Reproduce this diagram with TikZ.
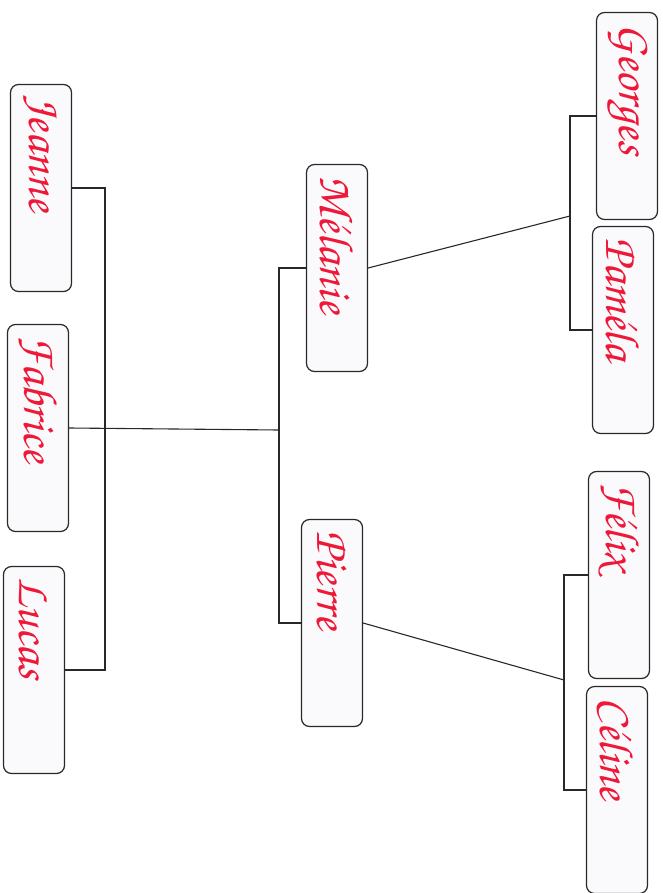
\documentclass[tikz,border=0pt]{standalone}
\usepackage[T1,TU]{fontenc}
\usepackage{tikz}
\usetikzlibrary{positioning,calc}
\definecolor{famInk}{RGB}{238,24,56}
\definecolor{famEdge}{RGB}{40,40,40}
\definecolor{famPaper}{RGB}{250,250,252}
\newcommand{\handfont}{\fontencoding{T1}\fontfamily{pzc}\fontsize{48}{52}\selectfont}
\tikzset{
    famBox/.style={
        rectangle,
        draw=famEdge,
        line width=1.2pt,
        rounded corners=8pt,
        fill=famPaper,
        rotate=-90,
        minimum width=207pt,
        minimum height=61pt,
        text width=185pt,
        inner xsep=11pt,
        inner ysep=0pt,
        align=left,
        text=famInk,
        font=\handfont
    },
    famLine/.style={draw=famEdge, line width=1.1pt}
}
\begin{document}
\begin{tikzpicture}[x=1pt, y=-1pt]
\useasboundingbox (0,0) rectangle (663,893);
% grandparents column
\node[famBox] (jeanne) at (41,188) {Jeanne};
\node[famBox] (fabrice) at (38,428) {Fabrice};
\node[famBox] (lucas) at (34,670) {Lucas};
% children column
\node[famBox] (melanie) at (337,268) {M\'elanie};
\node[famBox] (pierre) at (332,623) {Pierre};
% grandchildren column
\node[famBox] (georges) at (627,116) {Georges};
\node[famBox] (pamela) at (623,330) {Pam\'ela};
\node[famBox] (felix) at (619,575) {F\'elix};
\node[famBox] (celine) at (617,790) {C\'eline};

% junction points
\coordinate (famL) at (105,430);
\coordinate (famM) at (279,430);
\coordinate (famGP) at (570,216);
\coordinate (famFC) at (564,680);

\draw[famLine] (jeanne.north) -| (famL) |- (lucas.north);
\draw[famLine] (fabrice.north) -- (famM);
\draw[famLine] (melanie.south) -| (famM) |- (pierre.south);
\draw[famLine] (georges.south) -| (famGP) |- (pamela.south);
\draw[famLine] (felix.south) -| (famFC) |- (celine.south);
\draw[famLine] (melanie.north) -- (famGP);
\draw[famLine] (pierre.north) -- (famFC);
\end{tikzpicture}
\end{document}
